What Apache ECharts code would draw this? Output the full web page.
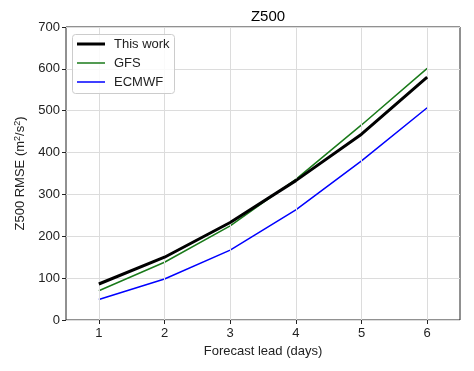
<!DOCTYPE html>
<html><head><meta charset="utf-8">
<script src="https://cdn.jsdelivr.net/npm/echarts@6/dist/echarts.min.js"></script>
<style>html,body{margin:0;padding:0;background:#fff}#c{width:474px;height:371px}</style>
</head><body><div id="c"></div>
<script>
const days = [1, 2, 3, 4, 5, 6];
const thisWork = [86, 150, 233, 333, 444, 580];
const gfs = [70, 138, 225, 336, 466, 601];
const ecmwf = [49, 98, 167, 263, 380, 507];
const yTicks = [0, 100, 200, 300, 400, 500, 600, 700];
const legendNames = ['This work', 'GFS', 'ECMWF'];

const chart = echarts.init(document.getElementById('c'));
const font = 'Liberation Sans, Arial, sans-serif';
const styles = {
  'This work': {color: '#000', width: 3},
  'GFS': {color: '#1a7a1a', width: 1.5},
  'ECMWF': {color: '#0000ff', width: 1.5}
};
function pts(v){ return days.map((d,i)=>[d, v[i]]); }

const legendEls = [{
  type: 'rect', shape: {x: 72.5, y: 34.5, width: 102, height: 59, r: 3},
  style: {fill: 'rgba(255,255,255,0.85)', stroke: '#ccc', lineWidth: 1}, z: 100
}];
legendNames.forEach((n, i) => {
  const y = 44 + i * 19;
  legendEls.push({type: 'line', shape: {x1: 77, y1: y, x2: 105, y2: y},
    style: {stroke: styles[n].color, lineWidth: styles[n].width}, z: 101});
  legendEls.push({type: 'text', x: 114, y: y, z: 101,
    style: {text: n, fill: '#222', font: '13px ' + font, textVerticalAlign: 'middle'}});
});

chart.setOption({
  animation: false,
  textStyle: {fontFamily: font},
  title: {text: 'Z500', left: 263, top: 4, textAlign: 'center',
    textStyle: {fontSize: 15, fontWeight: 'normal', color: '#000', fontFamily: font}},
  grid: {left: 66, right: 14, top: 27, bottom: 51, show: true, borderColor: '#222', borderWidth: 1},
  graphic: legendEls,
  xAxis: {
    type: 'value', min: 0.5, max: 6.5, interval: 1,
    name: 'Forecast lead (days)', nameLocation: 'middle', nameGap: 24,
    nameTextStyle: {fontSize: 13, color: '#222', fontFamily: font},
    axisLine: {show: false},
    axisTick: {show: true, length: 4, lineStyle: {color: '#222'}, customValues: days},
    axisLabel: {fontSize: 13, color: '#222', margin: 7, customValues: days,
      formatter: v => String(v)},
    splitLine: {show: false}
  },
  yAxis: {
    type: 'value', min: 0, max: 700, interval: 100,
    name: 'Z500 RMSE (m{sup|2}/s{sup|2})', nameLocation: 'middle', nameGap: 36,
    nameTextStyle: {fontSize: 13, color: '#222', fontFamily: font,
      rich: {sup: {fontSize: 9, color: '#222', fontFamily: font, padding: [0, 0, 7, 0]}}},
    axisLine: {show: false},
    axisTick: {show: true, length: 4, lineStyle: {color: '#222'}},
    axisLabel: {fontSize: 13, color: '#222', margin: 6,
      formatter: v => yTicks.includes(v) ? String(v) : ''},
    splitLine: {show: true, lineStyle: {color: '#dcdcdc', width: 1}}
  },
  series: [
    {type: 'line', name: '__vgrid', data: [], silent: true,
      markLine: {silent: true, symbol: 'none', label: {show: false},
        lineStyle: {color: '#dcdcdc', width: 1, type: 'solid'},
        data: days.map(d => ({xAxis: d}))}},
    {type: 'line', name: 'ECMWF', data: pts(ecmwf), symbol: 'none', z: 3,
      lineStyle: styles['ECMWF'], itemStyle: {color: styles['ECMWF'].color}},
    {type: 'line', name: 'GFS', data: pts(gfs), symbol: 'none', z: 4,
      lineStyle: styles['GFS'], itemStyle: {color: styles['GFS'].color}},
    {type: 'line', name: 'This work', data: pts(thisWork), symbol: 'none', z: 5,
      lineStyle: styles['This work'], itemStyle: {color: styles['This work'].color}}
  ]
});
</script></body></html>
